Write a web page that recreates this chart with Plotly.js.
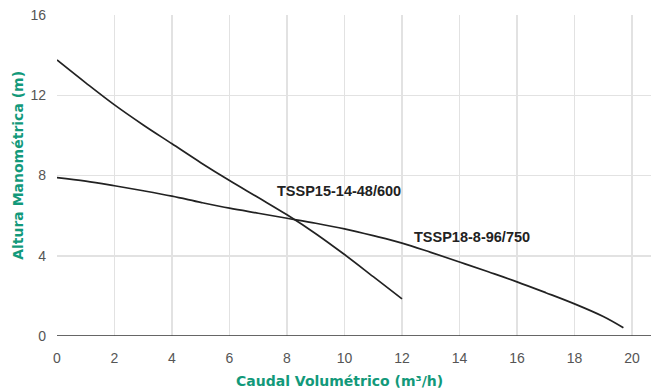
<!DOCTYPE html>
<html>
<head>
<meta charset="utf-8">
<script src="https://cdn.plot.ly/plotly-3.0.1.min.js"></script>
<style>html,body{margin:0;padding:0;background:#fff;}#chart{width:651px;height:388px;}</style>
</head>
<body>
<div id="chart"></div>
<script>
const pumpA = "TSSP15-14-48/600";
const pumpAFlow = [0, 1, 2, 3, 4, 5, 6, 7, 8, 9, 10, 11, 12];
const pumpAHead = [13.76, 12.62, 11.52, 10.52, 9.58, 8.64, 7.75, 6.9, 6.04, 5.1, 4.06, 2.96, 1.85];

const pumpB = "TSSP18-8-96/750";
const pumpBFlow = [0, 1, 2, 3, 4, 5, 6, 7, 8, 9, 10, 11, 12, 13, 14, 15, 16, 17, 18, 19, 19.7];
const pumpBHead = [7.89, 7.72, 7.49, 7.24, 6.97, 6.66, 6.37, 6.12, 5.87, 5.62, 5.34, 5.0, 4.63, 4.17, 3.69, 3.2, 2.7, 2.16, 1.6, 0.97, 0.41];

const xTicks = [0, 2, 4, 6, 8, 10, 12, 14, 16, 18, 20];
const yTicks = [0, 4, 8, 12, 16];

const xTitle = "Caudal Volumétrico (m³/h)";
const yTitle = "Altura Manométrica (m)";

const teal = "#12997a";
const lineStyle = {color: "#222222", width: 1.7, shape: "spline", smoothing: 1};

const data = [
  {x: pumpAFlow, y: pumpAHead, mode: "lines", line: lineStyle, name: pumpA, hoverinfo: "x+y"},
  {x: pumpBFlow, y: pumpBHead, mode: "lines", line: lineStyle, name: pumpB, hoverinfo: "x+y"}
];

const labelFont = {family: "Liberation Sans Narrow, Arial Narrow, sans-serif", size: 14.5, color: "#222222", weight: "bold"};
const titleFont = {family: "DejaVu Sans, Verdana, sans-serif", size: 14, color: teal, weight: "bold"};

const layout = {
  width: 651, height: 388,
  margin: {l: 57, r: 0, t: 15, b: 52},
  paper_bgcolor: "#ffffff", plot_bgcolor: "#ffffff",
  showlegend: false,
  xaxis: {
    range: [0, 20.66], tickvals: xTicks, ticktext: xTicks.map(String),
    showgrid: true, gridcolor: "#e2e2e2", gridwidth: 1.5,
    zeroline: false, showline: false, ticks: "", ticklabelstandoff: 12,
    tickfont: {family: "Liberation Sans, Arial, sans-serif", size: 14, color: "#555555"}
  },
  yaxis: {
    range: [0, 16], tickvals: yTicks, ticktext: yTicks.map(String),
    showgrid: true, gridcolor: "#e2e2e2", gridwidth: 1.5,
    zeroline: false, showline: false, ticks: "", ticklabelstandoff: 10,
    tickfont: {family: "Liberation Sans, Arial, sans-serif", size: 14, color: "#555555"}
  },
  shapes: [
    {type: "line", xref: "paper", yref: "y", x0: 0, x1: 1, y0: 0, y1: 0, line: {color: "#333333", width: 1.5}}
  ],
  annotations: [
    {x: 7.57, y: 7.24, xref: "x", yref: "y", text: pumpA, showarrow: false, xanchor: "left", yanchor: "middle", font: labelFont},
    {x: 12.35, y: 4.92, xref: "x", yref: "y", text: pumpB, showarrow: false, xanchor: "left", yanchor: "middle", font: labelFont},
    {x: 0.4756, y: 0, xref: "paper", yref: "paper", yshift: -45, text: xTitle, showarrow: false, xanchor: "center", yanchor: "middle", font: titleFont},
    {x: 0, y: 0.53, xref: "paper", yref: "paper", xshift: -39, text: yTitle, showarrow: false, textangle: -90, xanchor: "center", yanchor: "middle", font: titleFont}
  ]
};

Plotly.newPlot("chart", data, layout, {displayModeBar: false, staticPlot: true});
</script>
</body>
</html>
